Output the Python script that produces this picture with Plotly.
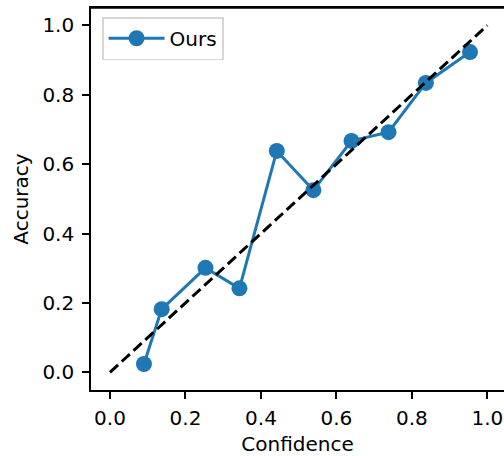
import plotly.graph_objects as go

confidence = [0.090, 0.137, 0.253, 0.343, 0.442, 0.539, 0.640, 0.738, 0.837, 0.954]
accuracy = [0.024, 0.182, 0.301, 0.242, 0.638, 0.525, 0.667, 0.692, 0.834, 0.923]
diag = [0.0, 1.0]
tick_vals = [0.0, 0.2, 0.4, 0.6, 0.8, 1.0]
tick_text = ["0.0", "0.2", "0.4", "0.6", "0.8", "1.0"]

FONT = "DejaVu Sans"

fig = go.Figure()
fig.add_trace(go.Scatter(
    x=confidence, y=accuracy, mode="lines+markers", name="Ours",
    line=dict(color="#1f77b4", width=3),
    marker=dict(color="#1f77b4", size=16),
))
fig.add_trace(go.Scatter(
    x=diag, y=diag, mode="lines", showlegend=False,
    line=dict(color="black", width=3, dash="11px,5px"),
))

axis_common = dict(
    showgrid=False, zeroline=False, showline=True, linecolor="black", linewidth=1.6,
    ticks="outside", ticklen=7, tickwidth=1.6, tickcolor="black",
    tickvals=tick_vals, ticktext=tick_text,
    tickfont=dict(family=FONT, size=20, color="black"),
    automargin=False,
)

fig.update_layout(
    width=504, height=456,
    margin=dict(l=91, r=0, t=8, b=66),
    paper_bgcolor="white", plot_bgcolor="white",
    font=dict(family=FONT, size=20, color="black"),
    xaxis=dict(range=[-0.0503, 1.044], mirror=True, ticklabelstandoff=2,
               title=dict(text="Confidence", font=dict(family=FONT, size=20, color="black"), standoff=8),
               **axis_common),
    yaxis=dict(range=[-0.051, 1.050], mirror=False, ticklabelstandoff=4,
               title=dict(text="Accuracy", font=dict(family=FONT, size=20, color="black"), standoff=8),
               **axis_common),
    legend=dict(x=0.0266, y=0.976, xanchor="left", yanchor="top",
                itemwidth=56,
                bgcolor="rgba(255,255,255,0.8)", bordercolor="#d6d6d6", borderwidth=1.6,
                font=dict(family=FONT, size=20, color="black")),
    showlegend=True,
)

# top spine only (no right spine visible)
fig.add_shape(type="line", xref="paper", yref="paper", x0=0, x1=1, y0=1, y1=1,
              line=dict(color="black", width=1.6))

fig.write_html("out.html")
